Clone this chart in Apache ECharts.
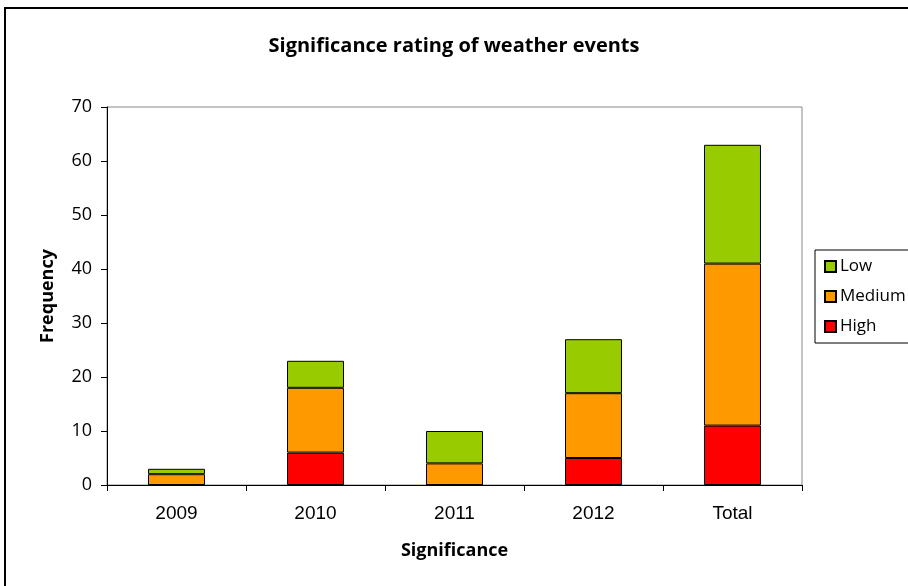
<!DOCTYPE html>
<html>
<head>
<meta charset="utf-8">
<script src="https://cdn.jsdelivr.net/npm/echarts@6/dist/echarts.min.js"></script>
<style>
  html, body { margin: 0; padding: 0; background: #fff; }
  #chart { width: 908px; height: 586px; }
</style>
</head>
<body>
<div id="chart"></div>
<script>
// Weather event significance counts per year, stacked by rating
const categories = ['2009', '2010', '2011', '2012', 'Total'];
const highValues = [0, 6, 0, 5, 11];
const mediumValues = [2, 12, 4, 12, 30];
const lowValues = [1, 5, 6, 10, 22];
const yTicks = [0, 10, 20, 30, 40, 50, 60, 70];

const chart = echarts.init(document.getElementById('chart'));

const barBase = {
  type: 'bar',
  stack: 'sig',
  barWidth: '41%',
  itemStyle: { borderColor: '#000', borderWidth: 1 },
  emphasis: { disabled: true }
};

chart.setOption({
  animation: false,
  backgroundColor: '#fff',
  title: {
    text: 'Significance rating of weather events',
    left: 'center',
    top: 31,
    textStyle: { fontFamily: 'Open Sans', fontWeight: 'bold', fontSize: 20, color: '#000' }
  },
  graphic: [{
    type: 'rect',
    shape: { x: 5, y: 8, width: 920, height: 600 },
    style: { fill: 'none', stroke: '#000', lineWidth: 2 },
    silent: true
  }],
  legend: {
    data: ['Low', 'Medium', 'High'],
    orient: 'vertical',
    left: 815,
    top: 250,
    padding: [8, 30, 8, 9],
    itemGap: 13,
    itemWidth: 11,
    itemHeight: 11,
    borderColor: '#000',
    borderWidth: 1,
    icon: 'rect',
    textStyle: { fontFamily: 'Open Sans', fontSize: 17, color: '#000', padding: [0, 0, 0, -1] }
  },
  grid: {
    left: 107, top: 107, right: 106, bottom: 101,
    show: true, borderColor: '#888', borderWidth: 1
  },
  xAxis: {
    type: 'category',
    data: categories,
    name: 'Significance',
    nameLocation: 'middle',
    nameGap: 57,
    nameTextStyle: { fontFamily: 'Open Sans', fontWeight: 'bold', fontSize: 18, color: '#000' },
    axisLine: { lineStyle: { color: '#000' } },
    axisTick: { show: true, length: 6, lineStyle: { color: '#000' } },
    axisLabel: { fontFamily: 'Liberation Sans', fontSize: 19, color: '#000', margin: 19 }
  },
  yAxis: {
    type: 'value',
    min: yTicks[0],
    max: yTicks[yTicks.length - 1],
    interval: 10,
    name: 'Frequency',
    nameLocation: 'middle',
    nameGap: 50,
    nameTextStyle: { fontFamily: 'Open Sans', fontWeight: 'bold', fontSize: 18, color: '#000' },
    axisLine: { show: true, lineStyle: { color: '#000' } },
    axisTick: { show: true, length: 6, lineStyle: { color: '#000' } },
    splitLine: { show: false },
    axisLabel: { fontFamily: 'Open Sans', fontSize: 18, color: '#000', margin: 15 }
  },
  series: [
    Object.assign({}, barBase, { name: 'High', data: highValues, itemStyle: Object.assign({}, barBase.itemStyle, { color: '#ff0000' }) }),
    Object.assign({}, barBase, { name: 'Medium', data: mediumValues, itemStyle: Object.assign({}, barBase.itemStyle, { color: '#ff9900' }) }),
    Object.assign({}, barBase, { name: 'Low', data: lowValues, itemStyle: Object.assign({}, barBase.itemStyle, { color: '#99cc00' }) })
  ]
});
</script>
</body>
</html>
